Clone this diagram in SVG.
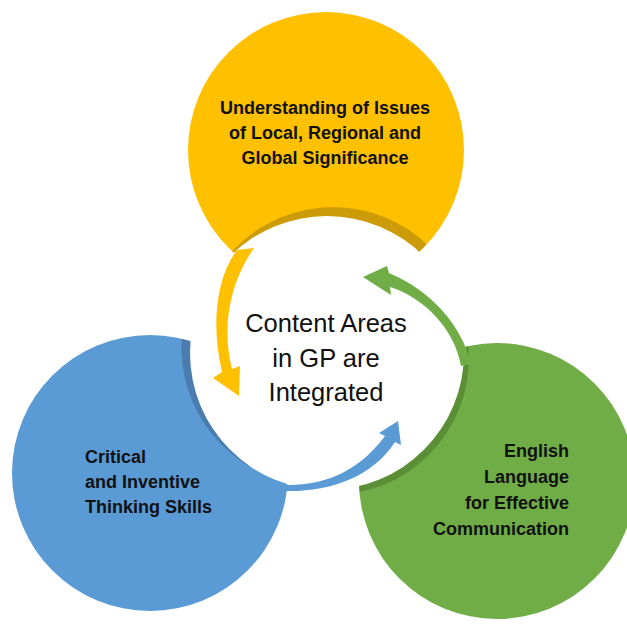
<svg xmlns="http://www.w3.org/2000/svg" width="627" height="625" viewBox="0 0 627 625">
  <style>
    .lbl { font-family: "Liberation Sans", Arial, sans-serif; font-weight: bold; font-size: 18px; fill: #111; }
    .ctr { font-family: "Liberation Sans", Arial, sans-serif; font-size: 25.5px; fill: #111; text-anchor: middle; }
  </style>
  <defs>
    <clipPath id="clipY"><circle cx="326" cy="150" r="138"/></clipPath>
    <clipPath id="clipB"><circle cx="150" cy="473" r="138"/></clipPath>
    <clipPath id="clipG"><circle cx="497" cy="481" r="138"/></clipPath>
  </defs>
  <rect width="627" height="625" fill="#fff"/>

  <g id="node-yellow">
    <circle cx="326" cy="150" r="138" fill="#FFC000"/>
    <circle cx="333" cy="344" r="137" fill="#CC9C08" clip-path="url(#clipY)"/>
  </g>
  <g id="node-blue">
    <circle cx="150" cy="473" r="138" fill="#5B9BD5"/>
    <circle cx="318.5" cy="348" r="137" fill="#4A7DAE" clip-path="url(#clipB)"/>
  </g>
  <g id="node-green">
    <circle cx="497" cy="481" r="138" fill="#70AD47"/>
    <circle cx="332" cy="358" r="137" fill="#5A8F36" clip-path="url(#clipG)"/>
  </g>
  <g id="node-center">
    <circle cx="327" cy="353" r="137" fill="#fff"/>
  </g>

  <g id="connectors">
    <path d="M 237,250 C 218,275 210,320 222,372 L 213,378 L 239,396 L 240,366 L 232,369 C 222,330 228,285 254,248 Z" fill="#FFC000"/>
    <path d="M 471,364 C 462,325 430,290 389,273 L 387,266 L 363,277 L 391,295 L 390,287 C 425,298 455,330 461,366 Z" fill="#70AD47"/>
    <path d="M 286,485 C 320,485 355,476 385,436 L 379,433 L 398,421 L 401,445 L 395,442 C 372,478 328,492 286,491 Z" fill="#5B9BD5"/>
  </g>

  <g id="text-yellow" class="lbl" text-anchor="middle">
    <text x="325" y="113.5" class="lbl">Understanding of Issues</text>
    <text x="325" y="138.5" class="lbl">of Local, Regional and</text>
    <text x="325" y="163.5" class="lbl">Global Significance</text>
  </g>
  <g id="text-blue">
    <text x="85" y="463" class="lbl">Critical</text>
    <text x="85" y="488" class="lbl">and Inventive</text>
    <text x="85" y="513" class="lbl">Thinking Skills</text>
  </g>
  <g id="text-green" text-anchor="end">
    <text x="569" y="457" class="lbl">English</text>
    <text x="569" y="483" class="lbl">Language</text>
    <text x="569" y="509" class="lbl">for Effective</text>
    <text x="569" y="535" class="lbl">Communication</text>
  </g>
  <g id="text-center">
    <text x="326" y="332" class="ctr">Content Areas</text>
    <text x="326" y="366.5" class="ctr">in GP are</text>
    <text x="326" y="401" class="ctr">Integrated</text>
  </g>
</svg>
